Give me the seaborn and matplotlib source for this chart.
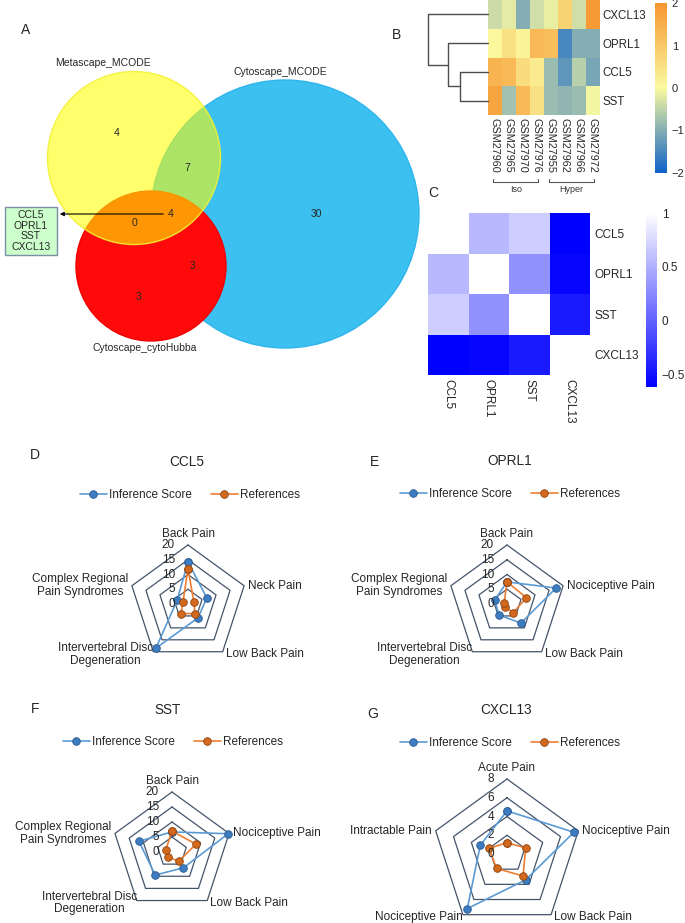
import numpy as np
import pandas as pd
import matplotlib
matplotlib.use("Agg")
import matplotlib.pyplot as plt
import seaborn as sns
from matplotlib.colors import LinearSegmentedColormap
from matplotlib.patches import Circle, Rectangle
from matplotlib.lines import Line2D
import matplotlib.transforms as mtransforms

# ---------------- data ----------------
venn_names = ["Metascape_MCODE", "Cytoscape_MCODE", "Cytoscape_cytoHubba"]
venn_only_meta = 4
venn_meta_cyto = 7
venn_only_cyto = 30
venn_all = 4
venn_meta_hubba = 0
venn_cyto_hubba = 3
venn_only_hubba = 3
hub_genes = ["CCL5", "OPRL1", "SST", "CXCL13"]

expr_genes = ["CXCL13", "OPRL1", "CCL5", "SST"]
expr_samples = ["GSM27960", "GSM27965", "GSM27970", "GSM27976",
                "GSM27955", "GSM27962", "GSM27966", "GSM27972"]
expr_groups = ["Iso", "Iso", "Iso", "Iso", "Hyper", "Hyper", "Hyper", "Hyper"]
expr_cxcl13 = [-0.4, -0.2, -1.0, -0.35, -0.15, 0.8, -0.35, 1.9]
expr_oprl1 = [0.05, 0.5, 0.15, 1.3, 1.2, -1.5, -1.0, -1.0]
expr_ccl5 = [1.4, 1.3, 0.6, 0.3, -0.8, -1.3, -0.55, -1.1]
expr_sst = [1.7, -0.75, 1.3, 0.5, -0.8, -0.9, -0.8, -0.05]
# row dendrogram: (CCL5,SST) -> +OPRL1 -> +CXCL13
dendro_heights = [2.8, 4.0, 6.0]

corr_genes = ["CCL5", "OPRL1", "SST", "CXCL13"]
corr_ccl5 = [1.0, 0.55, 0.68, -0.62]
corr_oprl1 = [0.55, 1.0, 0.30, -0.58]
corr_sst = [0.68, 0.30, 1.0, -0.45]
corr_cxcl13 = [-0.62, -0.58, -0.45, 1.0]

series_names = ["Inference Score", "References"]

ccl5_cats = ["Back Pain", "Neck Pain", "Low Back Pain",
             "Intervertebral Disc\nDegeneration", "Complex Regional\nPain Syndromes"]
ccl5_inference = [14.3, 6.7, 5.8, 18.5, 3.9]
ccl5_references = [12.0, 2.1, 4.0, 4.0, 1.8]

oprl1_cats = ["Back Pain", "Nociceptive Pain", "Low Back Pain",
              "Intervertebral Disc\nDegeneration", "Complex Regional\nPain Syndromes"]
oprl1_inference = [7.5, 17.5, 8.0, 4.6, 4.4]
oprl1_references = [7.5, 6.9, 3.6, 1.2, 1.0]

sst_cats = ["Back Pain", "Nociceptive Pain", "Low Back Pain",
            "Intervertebral Disc\nDegeneration", "Complex Regional\nPain Syndromes"]
sst_inference = [6.7, 19.7, 6.5, 9.5, 11.6]
sst_references = [7.0, 8.4, 3.8, 2.1, 2.2]

cxcl13_cats = ["Acute Pain", "Nociceptive Pain", "Low Back Pain",
               "Nociceptive Pain", "Intractable Pain"]
cxcl13_inference = [4.6, 7.5, 3.4, 7.2, 3.0]
cxcl13_references = [1.2, 2.1, 2.9, 1.9, 2.0]

# ---------------- setup ----------------
sns.set_style("white")
plt.rcParams['font.family'] = ['Liberation Sans', 'DejaVu Sans']

W, H = 685, 923
fig = plt.figure(figsize=(W / 100, H / 100), dpi=100)


def fbox(x0, y0, x1, y1):
    return [x0 / W, 1 - y1 / H, (x1 - x0) / W, (y1 - y0) / H]


# base pixel axes
ax0 = fig.add_axes([0, 0, 1, 1])
ax0.set_xlim(0, W)
ax0.set_ylim(H, 0)
ax0.axis('off')

# ---------------- A: Venn ----------------
ax0.add_patch(Circle((285, 214), 134, fc='#3BC0F0', ec='#2FB5EC', lw=1, zorder=1))
ax0.add_patch(Circle((151, 266), 75, fc='#FF0A0A', ec='#F00000', lw=1, zorder=2))
ax0.add_patch(Circle((134, 158), 86.5, fc=(1, 1, 0, 0.58), ec=(0.95, 0.95, 0.2, 0.9), lw=1, zorder=3))
vfs = 7.5
ax0.text(117, 133, str(venn_only_meta), ha='center', va='center', fontsize=vfs, zorder=5)
ax0.text(187, 168, str(venn_meta_cyto), ha='center', va='center', fontsize=vfs, zorder=5)
ax0.text(316, 214, str(venn_only_cyto), ha='center', va='center', fontsize=vfs, zorder=5)
ax0.text(171, 214, str(venn_all), ha='center', va='center', fontsize=vfs, zorder=5)
ax0.text(135, 223, str(venn_meta_hubba), ha='center', va='center', fontsize=vfs, zorder=5)
ax0.text(193, 266, str(venn_cyto_hubba), ha='center', va='center', fontsize=vfs, zorder=5)
ax0.text(139, 297, str(venn_only_hubba), ha='center', va='center', fontsize=vfs, zorder=5)
ax0.text(103, 63, venn_names[0], ha='center', va='center', fontsize=vfs)
ax0.text(280, 72, venn_names[1], ha='center', va='center', fontsize=vfs)
ax0.text(145, 348, venn_names[2], ha='center', va='center', fontsize=vfs)
ax0.add_patch(Rectangle((5, 207), 52, 48, fc='#CCFFCC', ec='#7D8FA6', lw=1, zorder=5))
ax0.text(31, 231, "\n".join(hub_genes), ha='center', va='center', fontsize=vfs,
         linespacing=1.05, zorder=6)
ax0.annotate("", xy=(57, 214), xytext=(166, 214), zorder=6,
             arrowprops=dict(arrowstyle='-|>', color='black', lw=0.8, mutation_scale=6))
ax0.text(26, 30, "A", ha='center', va='center', fontsize=10)
ax0.text(397, 35, "B", ha='center', va='center', fontsize=10)
ax0.text(433, 193, "C", ha='center', va='center', fontsize=10)

# ---------------- B: expression heatmap ----------------
dfB = pd.DataFrame([expr_cxcl13, expr_oprl1, expr_ccl5, expr_sst],
                   index=expr_genes, columns=expr_samples)
cmapB = LinearSegmentedColormap.from_list('byo', ['#0E62C9', '#FAFAA0', '#F7962F'])
axB = fig.add_axes(fbox(488, 0, 600, 115))
cbB = fig.add_axes(fbox(655, 3, 667, 173))
sns.heatmap(dfB, ax=axB, cmap=cmapB, vmin=-2, vmax=2, cbar_ax=cbB,
            xticklabels=True, yticklabels=True)
axB.yaxis.tick_right()
axB.set_yticklabels(expr_genes, rotation=0, fontsize=8.3)
axB.set_xticklabels(expr_samples, rotation=270, fontsize=7.8, va='top', ha='center')
axB.tick_params(length=0, pad=2)
axB.set_xlabel("")
axB.set_ylabel("")
cbB.tick_params(length=0, labelsize=8)
cbB.set_yticks([-2, -1, 0, 1, 2])
for s in cbB.spines.values():
    s.set_visible(False)

# dendrogram
axDen = fig.add_axes(fbox(428, 0, 488, 115))
h1, h2, h3 = dendro_heights
rows = {g: i + 0.5 for i, g in enumerate(expr_genes)}
lc = '#4D4D4D'
c1 = (rows["CCL5"] + rows["SST"]) / 2
axDen.plot([0, h1, h1, 0], [rows["CCL5"], rows["CCL5"], rows["SST"], rows["SST"]], color=lc, lw=1, clip_on=False)
c2 = (rows["OPRL1"] + c1) / 2
axDen.plot([0, h2, h2, h1], [rows["OPRL1"], rows["OPRL1"], c1, c1], color=lc, lw=1, clip_on=False)
axDen.plot([0, h3, h3, h2], [rows["CXCL13"], rows["CXCL13"], c2, c2], color=lc, lw=1, clip_on=False)
axDen.set_xlim(h3, 0)
axDen.set_ylim(len(expr_genes), 0)
axDen.axis('off')

# group brackets
trB = mtransforms.blended_transform_factory(axB.transData, ax0.transData)
for grp in ["Iso", "Hyper"]:
    idx = [i for i, g in enumerate(expr_groups) if g == grp]
    xa, xb = idx[0] + 0.35, idx[-1] + 0.6
    ax0.plot([xa, xa, xb, xb], [179, 182, 182, 179], color='#555555', lw=0.8, transform=trB)
    ax0.text((xa + xb) / 2, 190, grp, ha='center', va='center', fontsize=6.5,
             transform=trB, color='#333333')

# ---------------- C: correlation heatmap ----------------
dfC = pd.DataFrame([corr_ccl5, corr_oprl1, corr_sst, corr_cxcl13],
                   index=corr_genes, columns=corr_genes)
cmapC = LinearSegmentedColormap.from_list('bw', ['#0000FF', '#FFFFFF'])
axC = fig.add_axes(fbox(428, 213, 590, 375))
cbC = fig.add_axes(fbox(646, 213, 657, 387))
sns.heatmap(dfC, ax=axC, cmap=cmapC, vmin=-0.62, vmax=1.0, cbar_ax=cbC,
            xticklabels=True, yticklabels=True)
axC.yaxis.tick_right()
axC.set_yticklabels(corr_genes, rotation=0, fontsize=8.5)
axC.set_xticklabels(corr_genes, rotation=270, fontsize=8.5, va='top', ha='center')
axC.tick_params(length=0, pad=3)
axC.set_xlabel("")
axC.set_ylabel("")
cbC.set_yticks([-0.5, 0, 0.5, 1])
cbC.set_yticklabels(["\u22120.5", "0", "0.5", "1"])
cbC.tick_params(length=0, labelsize=8.5)
for s in cbC.spines.values():
    s.set_visible(False)

# ---------------- radar charts ----------------
blue_line, blue_mk, blue_edge = '#5B9BD5', '#3D7CC0', '#2A5A90'
org_line, org_mk, org_edge = '#ED7D31', '#D2691E', '#8E4410'


def radar(cx, cy, R, rmax, step, cats, inf, ref, title, letter, letter_xy, title_xy, leg_xy):
    ax = fig.add_axes(fbox(cx - R, cy - R, cx + R, cy + R), projection='polar')
    ax.set_theta_offset(np.pi / 2)
    ax.set_theta_direction(-1)
    ax.set_ylim(0, rmax)
    ax.set_xticks([])
    ax.set_yticks([])
    ax.grid(False)
    ax.spines['polar'].set_visible(False)
    ax.patch.set_alpha(0)
    n = len(cats)
    ang = np.linspace(0, 2 * np.pi, n, endpoint=False)
    angc = np.append(ang, ang[0])
    for r in np.arange(step, rmax + step / 2, step):
        ax.plot(angc, [r] * (n + 1), color='#44546A', lw=0.9, clip_on=False, zorder=1)
    ax.plot(angc, np.append(inf, inf[0]), color=blue_line, lw=1.2, marker='o', ms=5.5,
            mfc=blue_mk, mec=blue_edge, mew=0.6, clip_on=False, zorder=3)
    ax.plot(angc, np.append(ref, ref[0]), color=org_line, lw=1.2, marker='o', ms=5.5,
            mfc=org_mk, mec=org_edge, mew=0.6, clip_on=False, zorder=4)
    for r in np.arange(0, rmax + step / 2, step):
        tr = mtransforms.offset_copy(ax.transData, fig=fig, x=-13, y=0, units='dots')
        ax.text(0, r, f"{r:g}", transform=tr, ha='right', va='center', fontsize=8.5, zorder=5)
    for i, lab in enumerate(cats):
        multi = "\n" in lab
        if i == 0:
            dx, dy, ha, va = 0, 5, 'center', 'bottom'
        elif i == 1:
            dx, dy, ha, va = 4, 0, 'left', 'center'
        elif i == 2:
            dx, dy, ha, va = 3, -2, 'left', 'center'
        elif i == 3:
            if multi:
                dx, dy, ha, va = 0, 10, 'right', 'top'
            else:
                dx, dy, ha, va = 0, -2, 'right', 'center'
        else:
            dx, dy, ha, va = -4, 0, 'right', 'center'
        tr = mtransforms.offset_copy(ax.transData, fig=fig, x=dx, y=dy, units='dots')
        ax.text(ang[i], rmax, lab, transform=tr, ha=ha, va=va, fontsize=8.5,
                multialignment='center', linespacing=1.1, zorder=6)
    ax0.text(letter_xy[0], letter_xy[1], letter, ha='center', va='center', fontsize=10)
    ax0.text(title_xy[0], title_xy[1], title, ha='center', va='center', fontsize=9.8)
    handles = [Line2D([0], [0], color=blue_line, lw=1.2, marker='o', ms=5.5, mfc=blue_mk,
                      mec=blue_edge, mew=0.6),
               Line2D([0], [0], color=org_line, lw=1.2, marker='o', ms=5.5, mfc=org_mk,
                      mec=org_edge, mew=0.6)]
    fig.legend(handles, series_names, loc='center', ncol=2, frameon=False,
               bbox_to_anchor=(leg_xy[0] / W, 1 - leg_xy[1] / H), fontsize=8.5,
               handlelength=2.3, handletextpad=0.2, columnspacing=1.6, numpoints=1)


radar(188, 604, 59, 20, 5, ccl5_cats, ccl5_inference, ccl5_references,
      "CCL5", "D", (35, 455), (187, 462), (190, 495))
radar(507, 604, 59, 20, 5, oprl1_cats, oprl1_inference, oprl1_references,
      "OPRL1", "E", (375, 462), (510, 461), (510, 494))
radar(172, 852, 60, 20, 5, sst_cats, sst_inference, sst_references,
      "SST", "F", (35, 709), (168, 710), (173, 742))
radar(507, 854, 75, 8, 2, cxcl13_cats, cxcl13_inference, cxcl13_references,
      "CXCL13", "G", (373, 714), (506, 710), (510, 743))

fig.savefig("out.png", dpi=100)
